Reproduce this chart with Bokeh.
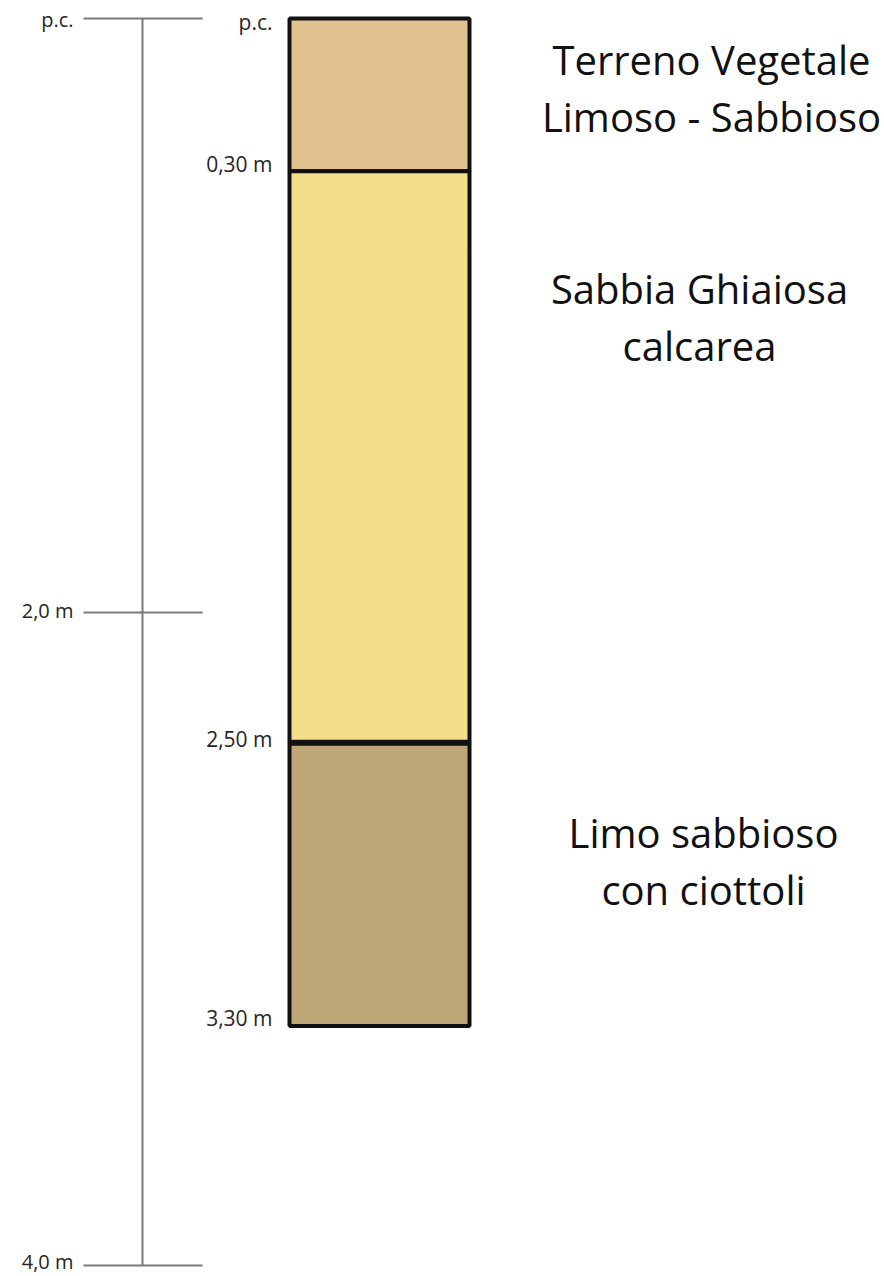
from bokeh.plotting import figure
from bokeh.models import Range1d, ColumnDataSource
from bokeh.core.properties import value
from bokeh.embed import file_html
from bokeh.resources import INLINE

# ---- data (depths as drawn on the schematic scale, in metres of the left ruler) ----
scale_ticks = [0.0, 1.905, 4.0]
scale_labels = ["p.c.", "2,0 m", "4,0 m"]

layer_tops = [0.0, 0.49, 2.323]
layer_bottoms = [0.49, 2.323, 3.232]
layer_colors = ["#E1C18F", "#F3DF8A", "#BEA878"]
layer_names = [
    ["Terreno Vegetale", "Limoso - Sabbioso"],
    ["Sabbia Ghiaiosa", "calcarea"],
    ["Limo sabbioso", "con ciottoli"],
]

boundary_depths = [0.0, 0.49, 2.323, 3.232]
boundary_labels = ["p.c.", "0,30 m", "2,50 m", "3,30 m"]

# ---- layout / style ----
W, H = 884, 1276
PX_PER_M = 311.75
top_pad = 18 / PX_PER_M
y_top = -top_pad
y_bottom = y_top + H / PX_PER_M

FONT = value("Open Sans")

p = figure(width=W, height=H, output_backend="svg", toolbar_location=None,
           x_range=Range1d(0, W), y_range=Range1d(y_bottom, y_top),
           min_border=0, min_border_left=0, min_border_right=0,
           min_border_top=0, min_border_bottom=0)
p.axis.visible = False
p.grid.visible = False
p.outline_line_color = None
p.background_fill_color = "white"
p.border_fill_color = "white"

# ruler
ruler_x = 142
p.segment(x0=[ruler_x], y0=[scale_ticks[0]], x1=[ruler_x], y1=[scale_ticks[-1]],
          line_color="#7a7a7a", line_width=2)
p.segment(x0=[83] * len(scale_ticks), y0=scale_ticks, x1=[202] * len(scale_ticks),
          y1=scale_ticks, line_color="#7a7a7a", line_width=2)
p.text(x=[73] * len(scale_ticks), y=scale_ticks, text=scale_labels,
       text_align="right", text_baseline="middle", text_font=FONT,
       text_font_size="20px", text_color="#262626", y_offset=[1, -2, -4])

# layers
src = ColumnDataSource(dict(top=layer_tops, bottom=layer_bottoms,
                            left=[289] * 3, right=[469] * 3, color=layer_colors))
p.quad(left="left", right="right", top="top", bottom="bottom", fill_color="color",
       line_color="#111111", line_width=4, source=src)
# heavier contact between second and third layer
p.segment(x0=[289], y0=[layer_tops[2]], x1=[469], y1=[layer_tops[2]],
          line_color="#111111", line_width=6)

# boundary labels
p.text(x=[272] * len(boundary_depths), y=boundary_depths, text=boundary_labels,
       text_align="right", text_baseline="middle", text_font=FONT,
       text_font_size="21px", text_color="#262626", y_offset=[3, -7, -4, -8])

# layer names
name_x = [711, 699, 703]
name_off = [41, 117, 90]
for i, lines in enumerate(layer_names):
    for j, line in enumerate(lines):
        p.text(x=[name_x[i]], y=[layer_tops[i]], text=[line], text_align="center",
               text_baseline="alphabetic", text_font=FONT, text_font_size="40px",
               text_color="#111111", y_offset=[name_off[i] + 57 * j])

open("out.html", "w").write(file_html(p, INLINE))
